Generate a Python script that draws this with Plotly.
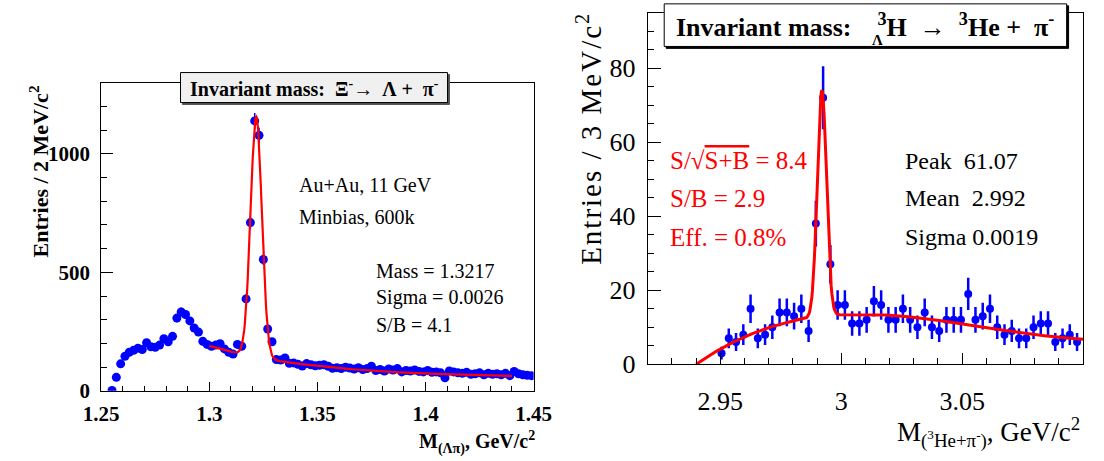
import numpy as np
import plotly.graph_objects as go

W, H = 1104, 461
SERIF = "Liberation Serif"

# ---------------- Xi- -> Lambda + pi- (left panel) ----------------
xi_bin_centers = np.round(1.255 + 0.002 * np.arange(98), 3)
xi_counts = [
    2, 57, 114, 146, 163, 171, 180, 174, 203, 186,
    184, 193, 220, 207, 230, 307, 333, 322, 295, 265,
    248, 209, 196, 188, 193, 199, 177, 163, 155, 196,
    188, 388, 710, 1139, 1078, 554, 261, 207, 132, 130,
    139, 116, 118, 112, 105, 115, 110, 106, 108, 110,
    104, 95, 98, 94, 100, 96, 92, 98, 90, 94,
    104, 86, 90, 84, 92, 88, 94, 80, 86, 84,
    88, 82, 80, 86, 78, 80, 76, 55, 84, 80,
    76, 74, 78, 70, 72, 76, 68, 74, 70, 72,
    68, 74, 64, 82, 72, 68, 66, 64,
]
xi_mass = 1.3217
xi_sigma = 0.0026
xi_peak = 1015.0
xi_bkg_const, xi_bkg_amp, xi_bkg_len = 55.0, 135.0, 0.05
xi_fit_range = (1.30, 1.44)

# ---------------- 3LH -> 3He + pi- (right panel) ----------------
h3l_bin_centers = np.round(2.9505 + 0.003 * np.arange(50), 4)
h3l_counts = [
    3, 7, 6, 8, 15, 7, 8, 10, 14, 14,
    13, 15, 9, 38, 72, 27, 16, 16, 11, 11,
    12, 17, 16, 12, 12, 15, 12, 10, 14, 10,
    9, 12, 12, 12, 19, 12, 13, 15, 10, 8,
    9, 7, 7, 10, 11, 11, 6, 7, 8, 6,
]
h3l_peak = 61.07
h3l_mean = 2.992
h3l_sigma = 0.0019
h3l_bkg_origin = 2.94
h3l_bkg_coef = (459.5, -4740.0, 13330.0)   # cubic in (m - origin)
h3l_fit_range = (2.94, 3.10)


def xi_fit(m):
    bkg = xi_bkg_const + xi_bkg_amp * np.exp(-(m - 1.30) / xi_bkg_len)
    return bkg + xi_peak * np.exp(-0.5 * ((m - xi_mass) / xi_sigma) ** 2)


def h3l_fit(m):
    t = m - h3l_bkg_origin
    b1, b2, b3 = h3l_bkg_coef
    bkg = b1 * t + b2 * t ** 2 + b3 * t ** 3
    return bkg + h3l_peak * np.exp(-0.5 * ((m - h3l_mean) / h3l_sigma) ** 2)


xi_m = np.linspace(*xi_fit_range, 600)
h3l_m = np.linspace(*h3l_fit_range, 600)

BLUE = "#0000ff"
RED = "#ff0000"

fig = go.Figure()
fig.add_trace(go.Scatter(
    x=xi_bin_centers, y=xi_counts, mode="markers",
    marker=dict(color=BLUE, size=9),
    error_y=dict(type="data", array=np.sqrt(xi_counts), color=BLUE, thickness=1.5, width=0),
    xaxis="x", yaxis="y", showlegend=False))
fig.add_trace(go.Scatter(
    x=xi_m, y=xi_fit(xi_m), mode="lines", line=dict(color=RED, width=2.2),
    xaxis="x", yaxis="y", showlegend=False))
fig.add_trace(go.Scatter(
    x=h3l_bin_centers, y=h3l_counts, mode="markers",
    marker=dict(color=BLUE, size=8),
    error_y=dict(type="data", array=np.sqrt(h3l_counts), color=BLUE, thickness=2.5, width=0),
    xaxis="x2", yaxis="y2", showlegend=False))
fig.add_trace(go.Scatter(
    x=h3l_m, y=h3l_fit(h3l_m), mode="lines", line=dict(color=RED, width=3),
    xaxis="x2", yaxis="y2", showlegend=False))


def px(x):
    return x / W


def py(y):
    return 1 - y / H


frame = dict(showline=True, mirror=True, linecolor="black", linewidth=1,
             showgrid=False, zeroline=False, ticks="inside", tickcolor="black",
             tickwidth=1)

fig.update_layout(
    width=W, height=H, autosize=False,
    margin=dict(l=0, r=0, t=0, b=0),
    paper_bgcolor="white", plot_bgcolor="white",
    xaxis=dict(frame, domain=[px(86), px(533)], range=[1.25, 1.45], anchor="y",
               tickvals=[1.25, 1.30, 1.35, 1.40, 1.45],
               ticktext=["1.25", "1.3", "1.35", "1.4", "1.45"], ticklen=9,
               minor=dict(tickvals=np.round(np.arange(1.25, 1.4501, 0.01), 2).tolist(),
                          ticklen=5, ticks="inside", tickcolor="black"),
               tickfont=dict(family=SERIF, size=21, color="black", weight="bold"),
               ticklabelstandoff=4),
    yaxis=dict(frame, domain=[py(404), py(85.5)], range=[0, 1300], anchor="x",
               tickvals=[0, 500, 1000], ticklen=12,
               minor=dict(tickvals=list(range(0, 1301, 100)), ticklen=6,
                          ticks="inside", tickcolor="black"),
               tickfont=dict(family=SERIF, size=21, color="black", weight="bold"),
               ticklabelstandoff=6),
    xaxis2=dict(frame, domain=[px(651), px(1101)], range=[2.92, 3.10], anchor="y2",
                tickvals=[2.95, 3.0, 3.05], ticktext=["2.95", "3", "3.05"], ticklen=11,
                minor=dict(tickvals=np.round(np.arange(2.92, 3.1001, 0.01), 2).tolist(),
                           ticklen=6, ticks="inside", tickcolor="black"),
                tickfont=dict(family=SERIF, size=26, color="black"),
                ticklabelstandoff=14),
    yaxis2=dict(frame, domain=[py(376.5), py(13)], range=[0, 95], anchor="x2",
                tickvals=[0, 20, 40, 60, 80], ticklen=13,
                minor=dict(tickvals=list(range(0, 96, 5)), ticklen=6,
                           ticks="inside", tickcolor="black"),
                tickfont=dict(family=SERIF, size=26, color="black"),
                ticklabelstandoff=6),
)


def ann(text, x, y, size, color="black", bold=False, xanchor="left",
        yanchor="middle", angle=0):
    return dict(text=text, xref="paper", yref="paper", x=px(x), y=py(y),
                showarrow=False, xanchor=xanchor, yanchor=yanchor, textangle=angle,
                font=dict(family=SERIF, size=size, color=color,
                          weight="bold" if bold else "normal"))


def box(x0, y0, x1, y1, fill, line_color="black", width=1):
    return dict(type="rect", xref="paper", yref="paper", x0=px(x0), x1=px(x1),
                y0=py(y1), y1=py(y0), fillcolor=fill, layer="above",
                line=dict(color=line_color, width=width))


shapes = [
    box(170, 77, 446, 108, "#555555", "#555555"),
    box(168, 75, 444, 106, "#f0f0f0"),
    box(670, 6, 1086, 50, "black"),
    box(668, 4, 1084, 48, "white"),
]

annotations = [
    # left panel
    ann("Invariant mass:  Ξ<sup>-</sup>→  Λ +  π<sup>-</sup>", 306, 91, 20, bold=True,
        xanchor="center"),
    ann("Entries / 2 MeV/c<sup>2</sup>", 22, 86, 22, bold=True, xanchor="center",
        yanchor="top", angle=-90),
    ann("M<sub>(Λπ)</sub>, GeV/c<sup>2</sup>", 537, 457, 20, bold=True, xanchor="right"),
    ann("Au+Au, 11 GeV", 288, 191, 20),
    ann("Minbias, 600k", 288, 224, 20),
    ann("Mass = 1.3217", 368, 280, 20),
    ann("Sigma = 0.0026", 368, 308, 20),
    ann("S/B = 4.1", 368, 336, 20),
    # right panel
    ann("Invariant mass:    <sup>3</sup>H  →  <sup>3</sup>He +  π<sup>-</sup>", 876, 26, 26,
        bold=True, xanchor="center"),
    ann("Λ", 888, 41, 15, bold=True, xanchor="center"),
    ann("<span style='letter-spacing:2px'>Entries / 3 MeV/c</span><sup>2</sup>", 590, 12, 29,
        xanchor="center", yanchor="top", angle=-90),
    ann("M<sub>(<sup>3</sup>He+π<sup>-</sup>)</sub>, GeV/c<sup>2</sup>", 1100, 447, 27,
        xanchor="right"),
    ann("S/√<span style='text-decoration:overline'>S+B</span> = 8.4", 672, 166, 25,
        color=RED),
    ann("S/B = 2.9", 672, 205, 25, color=RED),
    ann("Eff. = 0.8%", 672, 245, 25, color=RED),
    ann("Peak  61.07", 915, 166, 24),
    ann("Mean  2.992", 915, 205, 24),
    ann("Sigma 0.0019", 915, 245, 24),
]

fig.update_layout(shapes=shapes, annotations=annotations)
fig.write_html("out.html")
